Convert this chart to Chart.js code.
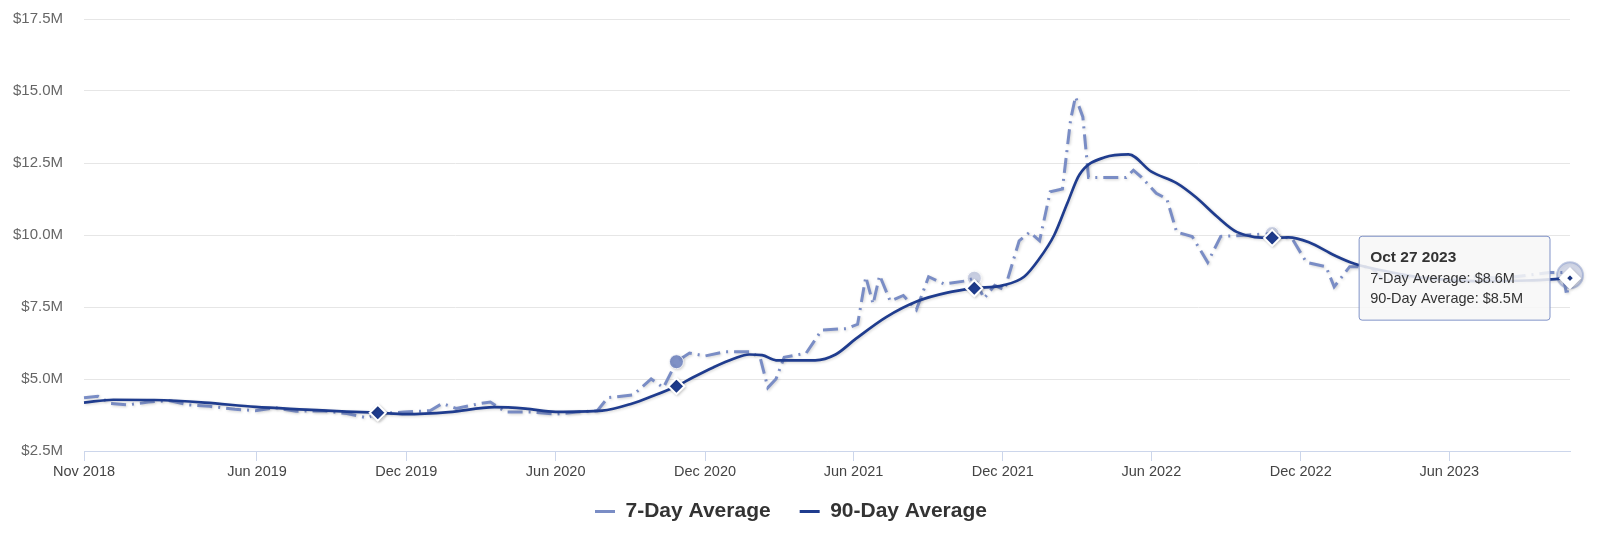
<!DOCTYPE html>
<html>
<head>
<meta charset="utf-8">
<script src="https://cdn.jsdelivr.net/npm/chart.js@4.4.0/dist/chart.umd.min.js"></script>
<style>
html,body{margin:0;padding:0;background:#ffffff;}
#wrap{width:1600px;height:537px;position:relative;}
</style>
</head>
<body>
<div id="wrap"><canvas id="c" width="1600" height="537"></canvas></div>
<script>
// ---------------- DATA ----------------
const seriesNames = ['7-Day Average', '90-Day Average'];

const d7Dates = [
 '2018-11-01','2018-11-18','2018-12-04','2018-12-25','2019-01-19','2019-02-13','2019-03-10','2019-04-04',
 '2019-05-05','2019-05-30','2019-06-24','2019-07-19','2019-08-19','2019-09-19','2019-10-14','2019-10-27',
 '2019-11-28','2019-12-30','2020-01-14','2020-01-31','2020-03-01','2020-03-13','2020-04-01','2020-05-02',
 '2020-06-02','2020-06-27','2020-07-22','2020-08-04','2020-09-04','2020-09-26','2020-10-11','2020-10-27',
 '2020-11-12','2020-12-01','2020-12-26','2021-01-26','2021-02-07','2021-02-16','2021-02-26','2021-03-08',
 '2021-04-04','2021-04-23','2021-05-24','2021-06-06','2021-06-16','2021-06-25','2021-07-03','2021-07-16',
 '2021-08-01','2021-08-17','2021-09-01','2021-09-20','2021-10-15','2021-10-27','2021-11-08','2021-11-21',
 '2021-12-03','2021-12-21','2022-01-03','2022-01-15','2022-01-28','2022-02-12','2022-02-22','2022-02-28',
 '2022-03-09','2022-03-16','2022-04-13','2022-05-01','2022-05-10','2022-05-20','2022-06-07','2022-06-20',
 '2022-07-02','2022-07-21','2022-08-09','2022-08-25','2022-09-28','2022-10-27','2022-11-21','2022-12-08',
 '2023-01-01','2023-01-11','2023-01-30','2023-02-24','2023-03-14','2023-04-05','2023-05-03','2023-06-01',
 '2023-07-04','2023-08-05','2023-09-04','2023-10-02','2023-10-18','2023-10-23','2023-10-27'
];
const d7Values = [
 4.35,4.40,4.15,4.10,4.20,4.25,4.10,4.05,
 3.95,3.90,4.00,3.88,3.90,3.80,3.65,3.80,
 3.85,3.90,4.15,3.98,4.15,4.20,3.85,3.85,
 3.78,3.85,3.90,4.35,4.45,5.00,4.70,5.60,
 5.90,5.80,5.95,5.95,5.70,4.70,5.00,5.75,
 5.90,6.70,6.75,6.90,8.55,7.60,8.60,7.70,
 7.90,7.40,8.55,8.30,8.40,8.50,7.80,8.25,
 8.10,9.80,10.10,9.80,11.50,11.60,14.00,14.80,
 14.10,12.00,12.00,12.00,12.25,12.00,11.45,11.25,
 10.10,9.95,9.05,9.95,10.00,10.05,9.85,9.05,
 8.90,8.20,8.90,8.90,8.40,8.55,8.50,8.45,
 8.55,8.50,8.60,8.70,8.70,7.90,8.60
];

const d90Dates = [
 '2018-11-01','2018-12-07','2019-01-26','2019-03-29','2019-05-30','2019-07-31','2019-09-19','2019-10-27',
 '2019-11-30','2020-01-22','2020-03-18','2020-04-25','2020-06-01','2020-07-28','2020-09-03','2020-09-27',
 '2020-10-27','2020-11-16','2020-12-11','2021-01-05','2021-01-24','2021-02-09','2021-02-26','2021-04-15',
 '2021-05-10','2021-06-04','2021-07-11','2021-08-18','2021-09-24','2021-10-27','2021-12-01','2021-12-27',
 '2022-01-14','2022-02-02','2022-02-18','2022-03-05','2022-04-05','2022-05-04','2022-06-01','2022-07-02',
 '2022-07-26','2022-08-20','2022-09-14','2022-10-27','2022-11-16','2022-12-11','2023-01-11','2023-02-05',
 '2023-03-14','2023-05-03','2023-07-04','2023-09-04','2023-10-27'
];
const d90Values = [
 4.18,4.28,4.27,4.18,4.03,3.94,3.87,3.83,
 3.78,3.85,4.02,3.97,3.86,3.90,4.15,4.40,
 4.75,5.05,5.40,5.70,5.85,5.83,5.65,5.65,
 5.85,6.40,7.15,7.70,8.00,8.15,8.25,8.55,
 9.15,10.00,11.10,12.10,12.70,12.80,12.20,11.80,
 11.30,10.65,10.10,9.90,9.92,9.75,9.30,9.00,
 8.75,8.50,8.40,8.42,8.50
];

const tickDates  = ['2018-11-01','2019-06-01','2019-12-01','2020-06-01','2020-12-01','2021-06-01','2021-12-01','2022-06-01','2022-12-01','2023-06-01'];
const tickLabels = ['Nov 2018','Jun 2019','Dec 2019','Jun 2020','Dec 2020','Jun 2021','Dec 2021','Jun 2022','Dec 2022','Jun 2023'];
const yTickValues = [2.5, 5, 7.5, 10, 12.5, 15, 17.5];
const markerDates = ['2019-10-27','2020-10-27','2021-10-27','2022-10-27'];

// ---------------- HELPERS ----------------
const DAY = 86400000;
const toDay = s => Date.parse(s + 'T00:00:00Z') / DAY;
const MONTHS = ['Jan','Feb','Mar','Apr','May','Jun','Jul','Aug','Sep','Oct','Nov','Dec'];
const fmtDate = d => { const dt = new Date(Math.round(d) * DAY); return MONTHS[dt.getUTCMonth()] + ' ' + dt.getUTCDate() + ' ' + dt.getUTCFullYear(); };
const fmtMoney = v => '$' + v.toFixed(1) + 'M';

const C7 = '#7a8dc5';
const C90 = '#1f3c8e';

const pts7 = d7Dates.map((d, i) => ({ x: toDay(d), y: d7Values[i] }));
const pts90 = d90Dates.map((d, i) => ({ x: toDay(d), y: d90Values[i] }));

const mk7Radius = ctx => { const i = markerDates.indexOf(d7Dates[ctx.dataIndex]); return i < 0 ? 0 : 7; };
const mk7Fill = ctx => { const i = markerDates.indexOf(d7Dates[ctx.dataIndex]); return i === 1 ? 'rgba(122,141,197,0.95)' : 'rgba(122,141,197,0.35)'; };
const mk90Radius = ctx => markerDates.indexOf(d90Dates[ctx.dataIndex]) < 0 ? 0 : 8;

Chart.Tooltip.positioners.leftOfPoint = function (items) {
  if (!items.length) return false;
  const el = items[items.length - 1].element;
  return { x: el.x - 20, y: el.y };
};

const shadowPlugin = {
  id: 'lineShadow',
  beforeDatasetDraw(chart) {
    const c = chart.ctx; c.save();
    c.shadowColor = 'rgba(0,0,0,0.18)'; c.shadowBlur = 3; c.shadowOffsetX = 1; c.shadowOffsetY = 1;
  },
  afterDatasetDraw(chart) { chart.ctx.restore(); }
};
const legendFix = {
  id: 'legendFix',
  beforeLayout(chart) {
    const lg = chart.legend;
    if (lg && !lg._fitPatched) {
      const orig = lg.fit;
      lg.fit = function () { orig.call(this); this.height = 55; };
      lg._fitPatched = true;
    }
  },
  afterLayout(chart) {
    const lg = chart.legend; if (!lg) return;
    lg.top = 472; lg.height = 537 - 472; lg.bottom = 537;
    lg.left += 6; lg.right += 6;
  }
};

const FONT = "'Liberation Sans', Arial, Helvetica, sans-serif";

const chart = new Chart(document.getElementById('c'), {
  type: 'line',
  data: {
    datasets: [
      {
        label: seriesNames[0], data: pts7, order: 2,
        borderColor: C7, backgroundColor: C7, borderWidth: 3,
        borderDash: [15, 6, 2, 6], borderCapStyle: 'butt', tension: 0,
        pointRadius: mk7Radius, pointBackgroundColor: mk7Fill, pointBorderColor: 'rgba(255,255,255,0.8)', pointBorderWidth: 1,
        pointHoverRadius: 13, pointHoverBackgroundColor: 'rgba(122,141,197,0.28)',
        pointHoverBorderColor: 'rgba(122,141,197,0.45)', pointHoverBorderWidth: 2,
        clip: false
      },
      {
        label: seriesNames[1], data: pts90, order: 1,
        borderColor: C90, backgroundColor: C90, borderWidth: 2.7,
        tension: 0.35, cubicInterpolationMode: 'monotone',
        pointStyle: 'rectRot', pointRadius: mk90Radius, pointBackgroundColor: C90,
        pointBorderColor: '#ffffff', pointBorderWidth: 2,
        pointHoverRadius: 7, pointHoverBackgroundColor: C90, pointHoverBorderColor: '#ffffff', pointHoverBorderWidth: 6,
        clip: false
      }
    ]
  },
  options: {
    responsive: false, animation: false, events: [],
    devicePixelRatio: 1,
    layout: { padding: { top: 19, right: 30, bottom: 0, left: 0 } },
    scales: {
      x: {
        type: 'linear', min: toDay(d7Dates[0]), max: toDay(d7Dates[d7Dates.length - 1]),
        afterBuildTicks: s => { s.ticks = tickDates.map(d => ({ value: toDay(d) })); },
        afterFit: s => { s.height = 31; },
        ticks: {
          autoSkip: false, maxRotation: 0, padding: 2, color: '#444444',
          font: { family: FONT, size: 14.5 },
          callback: (v, i) => tickLabels[i]
        },
        grid: { drawOnChartArea: false, drawTicks: true, tickLength: 10, color: '#ccd6eb', lineWidth: 1 },
        border: { display: true, color: '#ccd6eb', width: 1 }
      },
      y: {
        min: 2.5, max: 17.5,
        afterBuildTicks: s => { s.ticks = yTickValues.map(v => ({ value: v })); },
        afterFit: s => { s.width = 84; },
        ticks: { padding: 0, color: '#666666', font: { family: FONT, size: 15 }, callback: v => fmtMoney(v) },
        grid: { color: '#e6e6e6', lineWidth: 1, drawTicks: true, tickLength: 21, tickColor: 'rgba(0,0,0,0)' },
        border: { display: false }
      }
    },
    plugins: {
      legend: {
        position: 'bottom',
        labels: {
          boxWidth: 20, boxHeight: 3, padding: 29, color: '#333333',
          font: { family: FONT, size: 21, weight: 'bold' },
          sort: (a, b) => a.datasetIndex - b.datasetIndex,
          generateLabels: ch => Chart.defaults.plugins.legend.labels.generateLabels(ch).map(l => Object.assign(l, { fillStyle: l.strokeStyle, lineWidth: 0, lineDash: [] }))
        }
      },
      tooltip: {
        enabled: true, position: 'leftOfPoint', xAlign: 'right', yAlign: 'center',
        caretSize: 0, caretPadding: 0, cornerRadius: 3, displayColors: false,
        backgroundColor: 'rgba(247,247,247,0.86)', borderColor: 'rgba(122,141,197,0.95)', borderWidth: 1,
        padding: { left: 11, right: 27, top: 12, bottom: 12 },
        titleColor: '#333333', bodyColor: '#333333',
        titleFont: { family: FONT, size: 15.5, weight: 'bold' }, bodyFont: { family: FONT, size: 14.5 },
        titleMarginBottom: 3, bodySpacing: 3.5,
        itemSort: (a, b) => a.datasetIndex - b.datasetIndex,
        callbacks: {
          title: items => fmtDate(items[0].parsed.x),
          label: it => it.dataset.label + ': ' + fmtMoney(it.parsed.y)
        }
      }
    }
  },
  plugins: [shadowPlugin, legendFix]
});

const act = [{ datasetIndex: 0, index: d7Values.length - 1 }, { datasetIndex: 1, index: d90Values.length - 1 }];
chart.setActiveElements(act);
chart.tooltip.setActiveElements(act, { x: 1500, y: 280 });
chart.update();
</script>
</body>
</html>
